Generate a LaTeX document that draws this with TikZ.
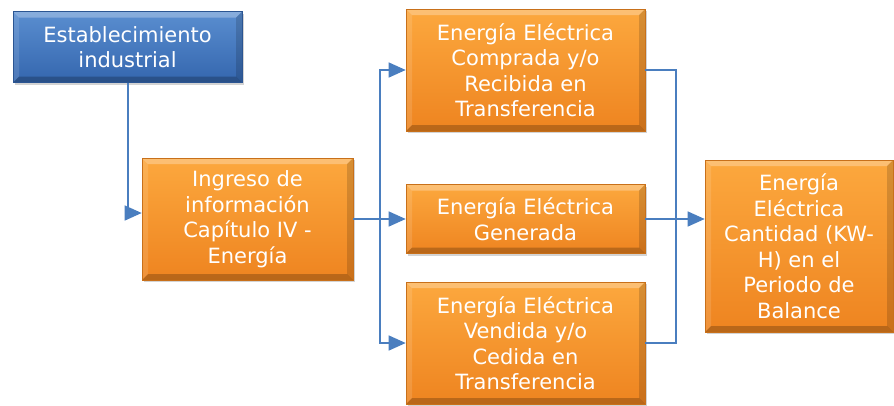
\documentclass[tikz,border=0pt]{standalone}
\usepackage{fontspec}
\setmainfont{DejaVu Sans}
\usetikzlibrary{arrows.meta,shadows}
\definecolor{orgtop}{HTML}{FCA83E}
\definecolor{orgbot}{HTML}{EE8420}
\definecolor{orgedge}{HTML}{C8701A}
\definecolor{bluetop}{HTML}{5A8ED0}
\definecolor{bluebot}{HTML}{3466AE}
\definecolor{blueedge}{HTML}{2B5592}
\definecolor{conn}{HTML}{4A7EBF}
\tikzset{
  bevel/.style={path picture={
    \coordinate (nw) at (path picture bounding box.north west);
    \coordinate (ne) at (path picture bounding box.north east);
    \coordinate (sw) at (path picture bounding box.south west);
    \coordinate (se) at (path picture bounding box.south east);
    \fill[white,opacity=0.28] (nw) -- (ne) -- ([shift={(-6pt,-6pt)}]ne) -- ([shift={(6pt,-6pt)}]nw) -- cycle;
    \fill[white,opacity=0.12] (nw) -- ([shift={(6pt,-6pt)}]nw) -- ([shift={(6pt,6pt)}]sw) -- (sw) -- cycle;
    \fill[black,opacity=0.15] (ne) -- ([shift={(-6pt,-6pt)}]ne) -- ([shift={(-6pt,6pt)}]se) -- (se) -- cycle;
    \fill[black,opacity=0.22] (sw) -- ([shift={(6pt,6pt)}]sw) -- ([shift={(-6pt,6pt)}]se) -- (se) -- cycle;
  }},
  base/.style={rectangle, inner sep=1pt, align=center, text=white,
    font=\fontsize{21}{25.5}\selectfont, bevel,
    drop shadow={shadow xshift=2pt, shadow yshift=-2pt, opacity=0.35}},
  obox/.style={base, top color=orgtop, bottom color=orgbot, draw=orgedge, line width=0.6pt},
  bbox/.style={base, top color=bluetop, bottom color=bluebot, draw=blueedge, line width=0.6pt},
  link/.style={draw=conn, line width=1.3pt},
  arr/.style={link, -{Triangle[length=17pt,width=15pt]}}
}
\begin{document}
\begin{tikzpicture}[x=1pt,y=-1pt]
\useasboundingbox (0,0) rectangle (894,405);
\node[bbox, minimum width=229pt, minimum height=71pt] (est) at (127.5,47) {Establecimiento\\industrial};
\node[obox, minimum width=211pt, minimum height=122pt] (ing) at (247.5,219) {Ingreso de\\información\\Capítulo IV -\\Energía};
\node[obox, minimum width=239pt, minimum height=122pt] (top) at (525.5,70) {Energía Eléctrica\\Comprada y/o\\Recibida en\\Transferencia};
\node[obox, minimum width=239pt, minimum height=69pt] (mid) at (525.5,219) {Energía Eléctrica\\Generada};
\node[obox, minimum width=239pt, minimum height=122pt] (bot) at (525.5,343) {Energía Eléctrica\\Vendida y/o\\Cedida en\\Transferencia};
\node[obox, minimum width=188pt, minimum height=172pt] (res) at (799,246) {Energía\\Eléctrica\\Cantidad (KW-\\H) en el\\Periodo de\\Balance};
% left connector
\coordinate (e1) at (128,213);
\draw[link] (est.south -| e1) -- (e1);
\draw[arr] (e1) -- (e1 -| ing.west);
% fan out
\coordinate (tr) at (380,219);
\draw[link] (ing.east) -- (tr);
\draw[arr] (tr) -- (mid.west);
\draw[arr] (tr) |- (top.west);
\draw[arr] (tr) |- (bot.west);
% fan in
\coordinate (jt) at (676,70);
\draw[link] (top.east) -- (jt) |- (bot.east);
\draw[arr] (mid.east) -- (mid.east -| res.west);
\end{tikzpicture}
\end{document}
